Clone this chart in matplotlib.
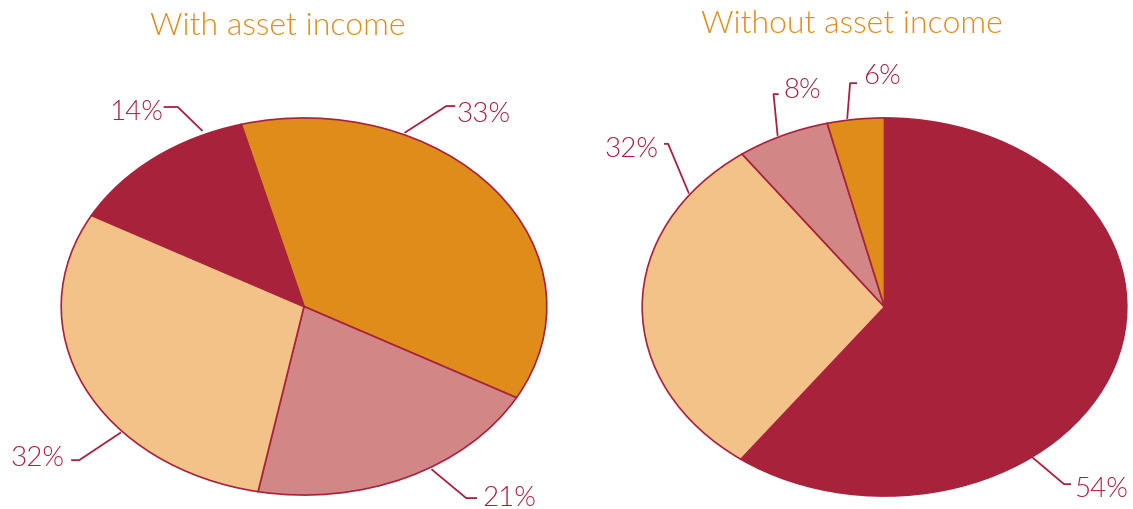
import matplotlib
matplotlib.use("Agg")
import matplotlib.pyplot as plt
import numpy as np

# ---------------- data ----------------
titles = ["With asset income", "Without asset income"]
categories_left = ["Orange", "Pink", "Light orange", "Crimson"]
shares_left = [37.2, 20.0, 30.0, 12.8]          # drawn wedge shares
labels_left = ["33%", "21%", "32%", "14%"]
categories_right = ["Crimson", "Light orange", "Pink", "Orange"]
shares_right = [60.1, 29.9, 6.2, 3.8]           # drawn wedge shares
labels_right = ["54%", "32%", "8%", "6%"]

# ---------------- style ----------------
CRIMSON = "#A8223C"
ORANGE = "#E08C1A"
LIGHT = "#F2C288"
PINK = "#D38686"
TITLE_C = "#E28C1E"
FONT = ["Lato", "DejaVu Sans"]
WEIGHT = 300
col_map = {"Crimson": CRIMSON, "Orange": ORANGE, "Light orange": LIGHT, "Pink": PINK}

W, H = 1133, 509
fig = plt.figure(figsize=(W / 100, H / 100), dpi=100)

def px_axes(x0, y0, x1, y1):
    return fig.add_axes([x0 / W, 1 - y1 / H, (x1 - x0) / W, (y1 - y0) / H])

# label layout in pie units: (anchor, elbow, end, text pos, ha)
layout_left = [
    ((0.414, 0.921), (0.586, 1.063), (0.623, 1.063), (0.627, 0.979), "left"),
    ((0.525, -0.863), (0.668, -1.016), (0.713, -1.016), (0.734, -1.058), "left"),
    ((-0.754, -0.668), (-0.926, -0.815), (-0.959, -0.815), (-0.988, -0.847), "right"),
    ((-0.418, 0.931), (-0.520, 1.058), (-0.578, 1.058), (-0.582, 0.989), "right"),
]
layout_right = [
    ((0.610, -0.795), (0.741, -0.937), (0.770, -0.937), (0.783, -1.005), "left"),
    ((-0.807, 0.600), (-0.893, 0.863), (-0.910, 0.863), (-0.934, 0.795), "right"),
    ((-0.441, 0.905), (-0.458, 1.126), (-0.437, 1.126), (-0.417, 1.105), "left"),
    ((-0.154, 0.995), (-0.142, 1.184), (-0.113, 1.184), (-0.088, 1.179), "left"),
]

pies = [
    (px_axes(60, 117, 548, 496), shares_left, categories_left, labels_left, layout_left, 105.0),
    (px_axes(641, 117, 1128, 497), shares_right, categories_right, labels_right, layout_right, 90.0),
]

for ax, shares, cats, labels, layout, start in pies:
    ax.pie(shares, colors=[col_map[c] for c in cats], startangle=start,
           counterclock=False, radius=1.0,
           wedgeprops=dict(edgecolor=CRIMSON, linewidth=1.2))
    ax.set_aspect("auto")
    ax.set_xlim(-1.005, 1.005)
    ax.set_ylim(-1.005, 1.005)
    ax.axis("off")
    for lab, (a, e, n, t, ha) in zip(labels, layout):
        ax.plot([a[0], e[0], n[0]], [a[1], e[1], n[1]], color=CRIMSON,
                lw=1.3, clip_on=False, solid_capstyle="butt")
        ax.text(t[0], t[1], lab, ha=ha, va="baseline", color=CRIMSON,
                fontsize=20, family=FONT, fontweight=WEIGHT, clip_on=False)

fig.text(277.5 / W, 1 - 35 / H, titles[0], ha="center", va="baseline",
         color=TITLE_C, fontsize=23, family=FONT, fontweight=WEIGHT)
fig.text(852 / W, 1 - 33 / H, titles[1], ha="center", va="baseline",
         color=TITLE_C, fontsize=23, family=FONT, fontweight=WEIGHT)

fig.savefig("out.png", dpi=100, facecolor="white")
